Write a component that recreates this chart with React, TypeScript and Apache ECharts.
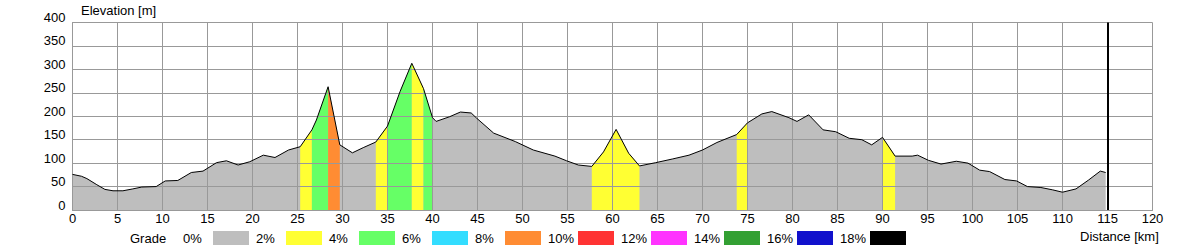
import React, { useEffect, useRef } from "react";
import * as echarts from "echarts";

const distanceKm = [
  0, 1, 1.6, 2.7, 3.6, 4.5, 5.6, 6.7, 7.7, 9.3, 10.3, 11.7, 13.2, 14.5, 16, 17.1, 18.4, 19.7, 21.2, 22.5,
  24, 25.3, 26.6, 27.1, 28.4, 29.7, 31.1, 32.3, 33.7, 35, 36.4, 37.7, 39, 40, 40.4, 41.9, 43.1, 44.3, 44.9,
  46.8, 49.2, 51.2, 53.6, 54.9, 56.2, 57.7, 59, 60.4, 61.8, 63, 64.8, 66.7, 68.5, 70, 71.6, 73.8, 75, 76.6,
  77.7, 79.6, 80.5, 81.8, 83.4, 84.8, 86.3, 87.7, 88.8, 90, 91.4, 93.3, 93.9, 95.1, 96.5, 98.2, 99.5, 100.8,
  101.9, 103.6, 104.9, 106.1, 107.6, 108.9, 110, 111.5, 112.9, 114.2, 114.8,
];
const elevationM = [
  76, 72, 67, 54, 44, 41, 41, 45, 49, 50, 62, 63, 80, 83, 101, 105, 96, 103, 117, 112,
  128, 135, 171, 192, 263, 139, 122, 133, 145, 179, 253, 313, 259, 197, 189, 199, 209, 207, 196,
  164, 146, 128, 115, 105, 96, 93, 124, 172, 121, 94, 101, 109, 117, 128, 144, 161, 186, 205,
  210, 197, 189, 203, 171, 167, 153, 150, 139, 155, 115, 115, 117, 106, 98, 104, 100, 85,
  82, 65, 62, 50, 48, 43, 38, 45, 64, 83, 80,
];

const gradeLabels = ["0%", "2%", "4%", "6%", "8%", "10%", "12%", "14%", "16%", "18%"];
const gradeColors = [
  "#BEBEBE", "#FFFF33", "#66FF66", "#33DDFF", "#FF8C33",
  "#FF3333", "#FF33FF", "#33A033", "#1111CC", "#000000",
];

const segmentStartKm = [25.3, 26.6, 28.4, 33.7, 35, 37.7, 39, 57.7, 73.8, 90];
const segmentEndKm = [26.6, 28.4, 29.7, 35, 37.7, 39, 40, 63, 75, 91.4];
const segmentGrade = [1, 2, 4, 1, 2, 1, 2, 1, 1, 1];

const routeEndKm = 115;

const FONT = "'Liberation Sans', Arial, sans-serif";

export default function App() {
  const ref = useRef<HTMLDivElement>(null);

  useEffect(() => {
    if (!ref.current) return;
    const chart = echarts.init(ref.current, null, { renderer: "svg" });

    const profile = distanceKm.map((d, i) => [d, elevationM[i]]);

    const areaSeries: any[] = [
      {
        type: "line",
        data: profile,
        symbol: "none",
        silent: true,
        z: 2,
        lineStyle: { width: 0, opacity: 0 },
        areaStyle: { color: gradeColors[0], opacity: 1 },
      },
    ];
    segmentStartKm.forEach((s, i) => {
      const e = segmentEndKm[i];
      areaSeries.push({
        type: "line",
        data: profile.filter(([d]) => d >= s - 1e-9 && d <= e + 1e-9),
        symbol: "none",
        silent: true,
        z: 3,
        lineStyle: { width: 0, opacity: 0 },
        areaStyle: { color: gradeColors[segmentGrade[i]], opacity: 1 },
      });
    });

    const graphics: any[] = [
      {
        type: "text",
        x: 81,
        y: 10,
        style: { text: "Elevation [m]", font: `13px ${FONT}`, fill: "#000", verticalAlign: "middle" },
      },
      {
        type: "text",
        x: 1080,
        y: 236,
        style: { text: "Distance [km]", font: `13px ${FONT}`, fill: "#000", verticalAlign: "middle" },
      },
      {
        type: "text",
        x: 130,
        y: 238,
        style: { text: "Grade", font: `13px ${FONT}`, fill: "#000", verticalAlign: "middle" },
      },
    ];
    gradeLabels.forEach((lab, i) => {
      graphics.push({
        type: "text",
        x: 183 + 73 * i,
        y: 238,
        style: { text: lab, font: `13px ${FONT}`, fill: "#000", verticalAlign: "middle" },
      });
      graphics.push({
        type: "rect",
        shape: { x: 213 + 73 * i, y: 231, width: 36, height: 14 },
        style: { fill: gradeColors[i] },
      });
    });

    chart.setOption({
      animation: false,
      grid: { left: 72.5, right: 47.5, top: 22.5, bottom: 40, containLabel: false },
      xAxis: {
        type: "value",
        min: 0,
        max: 120,
        interval: 5,
        z: 5,
        axisLine: { show: true, lineStyle: { color: "#999999", width: 1 } },
        axisTick: { show: false },
        axisLabel: { color: "#000", fontSize: 13, fontFamily: FONT, margin: 2 },
        splitLine: { show: true, lineStyle: { color: "#999999", width: 1 } },
      },
      yAxis: {
        type: "value",
        min: 0,
        max: 400,
        interval: 50,
        z: 5,
        axisLine: { show: true, lineStyle: { color: "#999999", width: 1 } },
        axisTick: { show: false },
        axisLabel: {
          color: "#000",
          fontSize: 13,
          fontFamily: FONT,
          margin: 7,
          verticalAlign: "bottom",
          lineHeight: 10,
        },
        splitLine: { show: true, lineStyle: { color: "#999999", width: 1 } },
      },
      series: [
        ...areaSeries,
        {
          type: "line",
          data: profile,
          symbol: "none",
          silent: true,
          z: 10,
          lineStyle: { color: "#000", width: 1 },
          markLine: {
            silent: true,
            symbol: "none",
            label: { show: false },
            lineStyle: { color: "#000", width: 2, type: "solid" },
            data: [{ xAxis: routeEndKm }],
          },
        },
      ],
      graphic: graphics,
    });

    return () => chart.dispose();
  }, []);

  return (
    <div
      ref={ref}
      style={{ position: "absolute", left: 0, top: 0, width: 1200, height: 250, background: "#fff" }}
    />
  );
}
